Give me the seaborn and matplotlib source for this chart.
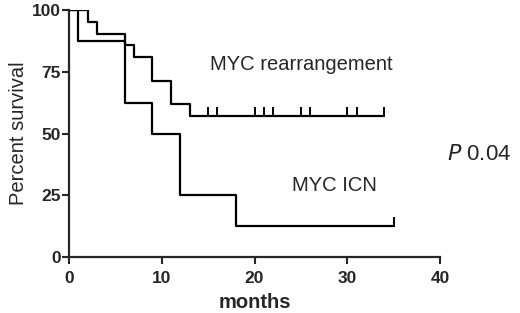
import numpy as np
import pandas as pd
import matplotlib
matplotlib.use("Agg")
import matplotlib.pyplot as plt
import seaborn as sns

# Kaplan-Meier step data
rearr_time = [0, 2, 3, 6, 7, 9, 11, 13, 34]
rearr_surv = [100, 95.24, 90.48, 85.71, 80.95, 71.43, 61.90, 57.14, 57.14]
rearr_censor = [15, 16, 20, 21, 22, 25, 26, 30, 31, 34]

icn_time = [0, 1, 6, 9, 12, 18, 35]
icn_surv = [100, 87.5, 62.5, 50, 25, 12.5, 12.5]
icn_censor = [35]

x_ticks = [0, 10, 20, 30, 40]
y_ticks = [0, 25, 50, 75, 100]

sns.set_style("ticks")
plt.rcParams['font.family'] = ['Liberation Sans', 'DejaVu Sans']

df = pd.concat([
    pd.DataFrame({"months": rearr_time, "surv": rearr_surv, "group": "MYC rearrangement"}),
    pd.DataFrame({"months": icn_time, "surv": icn_surv, "group": "MYC ICN"}),
])

fig = plt.figure(figsize=(5.2, 3.13), dpi=100)
ax = fig.add_axes([69 / 520, 1 - 257 / 313, (440 - 69) / 520, (257 - 10) / 313])

sns.lineplot(data=df, x="months", y="surv", units="group", estimator=None,
             drawstyle="steps-post", color="black", linewidth=1.6, ax=ax,
             legend=False)

# censor marks
tick_h = 3.5
ax.vlines(rearr_censor, rearr_surv[-1] - 0.5, rearr_surv[-1] + tick_h, color="black", lw=1.4)
ax.vlines(icn_censor, icn_surv[-1] - 0.5, icn_surv[-1] + tick_h, color="black", lw=1.4)

ax.set_xlim(0, 40)
ax.set_ylim(0, 100)
ax.set_xticks(x_ticks)
ax.set_yticks(y_ticks)
ax.tick_params(width=1.5, length=5, labelsize=12.5)
ax.tick_params(axis="x", pad=5)
ax.tick_params(axis="y", pad=1)
for lbl in ax.get_xticklabels() + ax.get_yticklabels():
    lbl.set_fontweight("bold")
for s in ["left", "bottom"]:
    ax.spines[s].set_linewidth(1.6)
sns.despine(ax=ax)

ax.set_xlabel("months", fontsize=14.5, fontweight="bold", labelpad=5)
ax.set_ylabel("Percent survival", fontsize=14.5, labelpad=3)

ax.text(25.1, 78, "MYC rearrangement", fontsize=14.5, ha="center", va="center")
ax.text(28.6, 29, "MYC ICN", fontsize=14.5, ha="center", va="center")
fig.text(447 / 520, 1 - 155 / 313, "$\\mathit{P}$ 0.04", fontsize=16, ha="left", va="center")

fig.savefig("out.png", dpi=100)
